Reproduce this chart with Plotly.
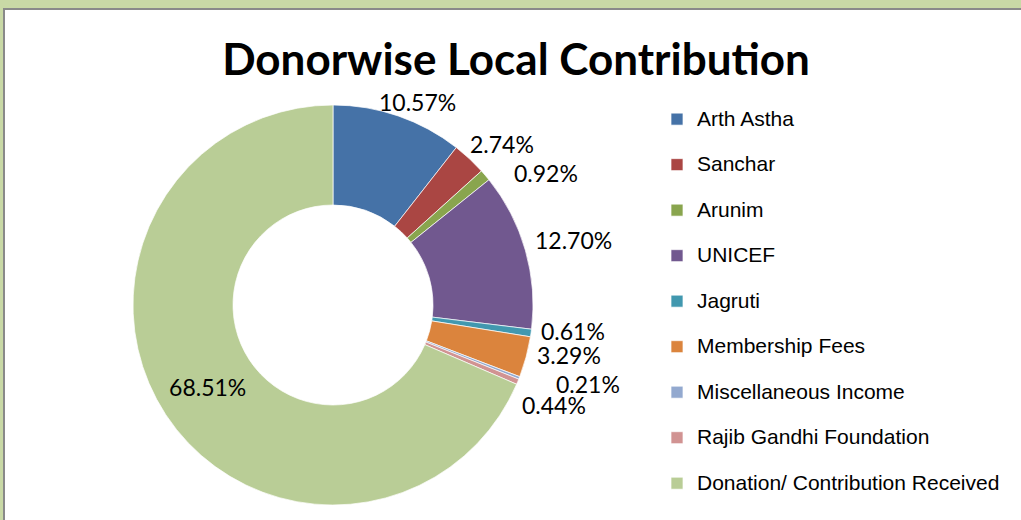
import math
import plotly.graph_objects as go

donors = ["Arth Astha", "Sanchar", "Arunim", "UNICEF", "Jagruti",
          "Membership Fees", "Miscellaneous Income", "Rajib Gandhi Foundation",
          "Donation/ Contribution Received"]
shares = [10.57, 2.74, 0.92, 12.70, 0.61, 3.29, 0.21, 0.44, 68.51]
slice_colors = ["#4572A7", "#AA4643", "#89A54E", "#71588F", "#4198AF",
                "#DB843D", "#93A9CF", "#D19392", "#B9CD96"]

W, H = 1021, 520
CX, CY, R = 333, 305, 200          # donut centre / outer radius in pixels
LABEL_FONT = dict(family="Lato", size=23, color="black")
LABEL_SHIFT = (5, -4)              # general offset of outside labels (px)
# small nudges (px) for crowded outside labels, like Excel's best-fit placement
nudge = {0: (0, 5), 1: (2, 1), 2: (27, 12), 3: (1, -2), 5: (2, -2),
         6: (29, 4), 7: (-3, 21)}

pct_text = [f"{v:.2f}%" for v in shares]
inside = [v > 50 for v in shares]

fig = go.Figure(go.Pie(
    labels=[f"<span style='font-size:21px'>{d}</span><br> " for d in donors],
    values=shares,
    text=[t if ins else "" for t, ins in zip(pct_text, inside)],
    textinfo="text",
    textposition=["inside" if ins else "none" for ins in inside],
    insidetextorientation="horizontal",
    hole=0.5,
    sort=False,
    direction="clockwise",
    rotation=0,
    marker=dict(colors=slice_colors, line=dict(color="white", width=0.7)),
    textfont=LABEL_FONT,
    domain=dict(x=[(CX - R) / W, (CX + R) / W], y=[(H - CY - R) / H, (H - CY + R) / H]),
))

# outside data labels at the outer edge of each slice's mid-angle
annotations = []
total = sum(shares)
cum = 0.0
for i, (v, t) in enumerate(zip(shares, pct_text)):
    mid = (cum + v / 2) / total * 2 * math.pi
    cum += v
    if inside[i]:
        continue
    s, c = math.sin(mid), math.cos(mid)
    w, h = 13 * len(t), 22
    px = CX + (R + 5) * s + w / 2 * s + LABEL_SHIFT[0]
    py = CY - (R + 5) * c - h / 2 * c + LABEL_SHIFT[1]
    dx, dy = nudge.get(i, (0, 0))
    px += dx
    py += dy
    annotations.append(dict(x=px / W, y=1 - py / H, xref="paper", yref="paper",
                            text=t, showarrow=False, xanchor="center", yanchor="middle",
                            font=LABEL_FONT))

fig.update_layout(
    width=W, height=H,
    margin=dict(l=0, r=0, t=0, b=0, autoexpand=False),
    paper_bgcolor="#C9D9A6",
    title=dict(text="<b>Donorwise Local Contribution</b>", x=516 / W, xanchor="center",
               y=1 - 60 / H, yanchor="middle",
               font=dict(family="Lato", size=44, color="black")),
    legend=dict(x=657 / W, xanchor="left", y=1 - 102 / H, yanchor="top",
                font=dict(family="Liberation Sans", size=16.35, color="black"),
                valign="top", bgcolor="rgba(0,0,0,0)"),
    annotations=annotations,
    shapes=[dict(type="rect", xref="paper", yref="paper", x0=4 / W, x1=1.05, y0=-0.05,
                 y1=1 - 9 / H, fillcolor="white", line=dict(color="#8A8A8A", width=2),
                 layer="below")],
)

fig.write_html("out.html", config={"displayModeBar": False},
               post_script="document.body.style.margin='0';")
